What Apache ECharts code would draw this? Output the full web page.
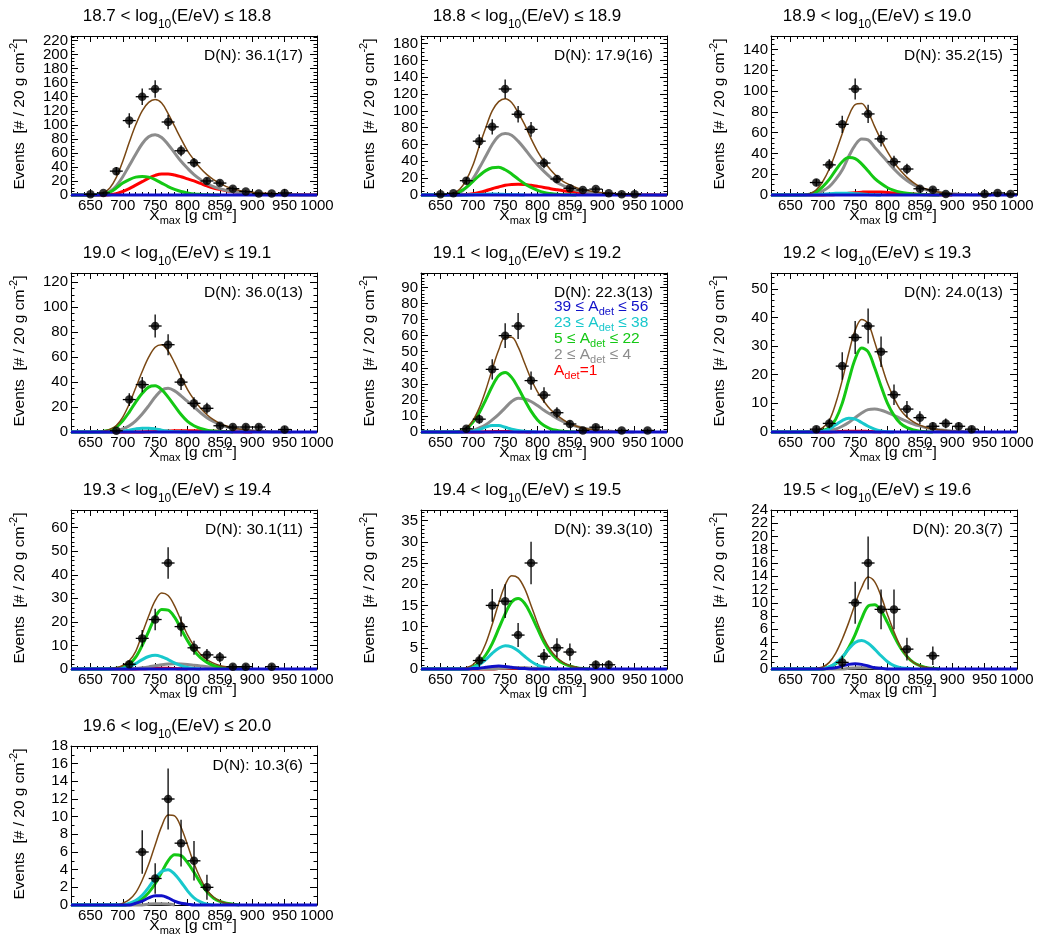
<!DOCTYPE html>
<html>
<head>
<meta charset="utf-8">
<script src="https://cdn.jsdelivr.net/npm/echarts@6/dist/echarts.min.js"></script>
<style>
  html, body { margin: 0; padding: 0; background: #fff; }
  #chart { width: 1037px; height: 943px; }
</style>
</head>
<body>
<div id="chart"></div>
<script>
// ---- energy bins (log10(E/eV) edges) and fit quality per bin ----
const energyEdges = ['18.7', '18.8', '18.9', '19.0', '19.1', '19.2', '19.3', '19.4', '19.5', '19.6', '20.0'];
const devianceText = ['36.1(17)', '17.9(16)', '35.2(15)', '36.0(13)', '22.3(13)', '24.0(13)', '30.1(11)', '39.3(10)', '20.3(7)', '10.3(6)'];

// ---- axes ----
const xTickLabels = [650, 700, 750, 800, 850, 900, 950, 1000];
const yTickStep = [20, 20, 20, 20, 10, 10, 10, 5, 2, 2];
const yAxisMax = [226.5, 189, 153, 127.5, 99, 55.5, 67.5, 37.5, 24, 18];

// ---- measured Xmax distributions: bin centres [g/cm^2] and event counts (null = empty bin) ----
const binCenters = [630, 650, 670, 690, 710, 730, 750, 770, 790, 810, 830, 850, 870, 890, 910, 930, 950, 970, 990];
const eventCounts = [
  [null, 1, 3, 34, 106, 140, 151, 104, 63, 46, 20, 17, 9, 5, 2, 2, 3, null, null],
  [null, 1, 2, 17, 64, 81, 126, 96, 78, 38, 19, 8, 6, 7, 2, 1, 1, null, null],
  [null, null, null, 12, 29, 68, 102, 78, 54, 32, 25, 6, 5, 1, null, null, 1, 2, 1],
  [null, null, null, 1, 26, 38, 85, 70, 40, 23, 19, 5, 4, 4, 4, null, 2, null, null],
  [null, null, null, 2, 8, 39, 60, 66, 32, 23, 12, 5, 1, 3, null, 1, null, 1, null],
  [null, null, null, 1, 3, 23, 33, 37, 28, 13, 8, 5, 2, 3, 2, 1, null, null, null],
  [null, null, null, null, 2, 13, 21, 45, 18, 9, 6, 5, 1, 1, null, 1, null, null, null],
  [null, null, null, null, 2, 15, 16, 8, 25, 3, 5, 4, null, 1, 1, null, null, null, null],
  [null, null, null, null, null, 1, 10, 16, 9, 9, 3, null, 2, null, null, null, null, null, null],
  [null, null, null, null, null, 6, 3, 12, 7, 5, 2, null, null, null, null, null, null, null, null]
];

// ---- fitted templates, sampled every 10 g/cm^2 from 620 ----
const fitX = [620, 630, 640, 650, 660, 670, 680, 690, 700, 710,
              720, 730, 740, 750, 760, 770, 780, 790, 800, 810,
              820, 830, 840, 850, 860, 870, 880, 890, 900, 910,
              920, 930, 940, 950, 960, 970, 980, 990, 1000];

// total fit
const fitTotal = [
  [0,0,0,0.1,0.5,3,10,25,48,75, 100,120,132,136,131,116,98,80,63,50, 38,29,22,16.5,12,9,6.5,5,3.8,3, 2.3,1.8,1.4,1.1,0.9,0.7,0.5,0.4,0.3],
  [0,0,0,0.2,0.7,2,7,18,35,58, 80,100,111,114.5,110,98,84,67,52,40, 30,22,16,12,8.7,6.5,5,3.5,2.7,1.9, 1.4,1,0.8,0.6,0.4,0.3,0.25,0.2,0.15],
  [0,0,0,0,0,0.4,1.3,5,13,25, 41,59,76,87,88,80,66,53,41.5,31.5, 23.5,17,12,8,5.7,3.9,2.7,1.8,1.1,0.7, 0.5,0.3,0.2,0.1,0],
  [0,0,0,0,0.2,0.7,2,5.2,12,22.5, 35.5,48.5,60,68,70,65,55.5,44.5,34,26, 19.2,13.8,9.9,6.9,4.8,3.3,2.3,1.6,1,0.7, 0.5,0.3,0.2,0.1,0],
  [0,0,0,0,0,0,0.5,2.5,7,15, 26,39,51,59,59,53,43,33,25,19, 14,10.5,7.5,5.2,3.6,2.5,1.7,1.1,0.7,0.5, 0.3,0.2,0.1,0],
  [0,0,0,0,0,0,0.2,0.5,1.5,4, 10,18,27.5,35.5,39.3,37.8,31.5,24,17,11.8, 7.7,5.2,3.5,2.4,1.6,1.1,0.8,0.5,0.3,0.2, 0.1,0],
  [0,0,0,0,0,0,0.2,0.5,1.5,3.5, 7.5,15,22.5,29,32.3,31.2,26.8,20.5,14.5,9.8, 6.3,4,2.5,1.5,0.9,0.5,0.3,0.2,0.1,0],
  [0,0,0,0,0,0,0,0.3,1,2.8, 6,10.5,15.5,19.8,22,21.5,19,15,10.8,7.2, 4.5,2.7,1.5,0.8,0.4,0.2,0.1,0],
  [0,0,0,0,0,0,0,0.1,0.3,1, 2.4,4.5,7,9.8,12.3,13.9,13.2,11,8.2,5.6, 3.4,1.9,1,0.5,0.25,0.1,0],
  [0,0,0,0,0,0,0,0,0.2,0.6, 1.4,2.8,4.6,6.8,8.9,10.2,10.1,8.8,6.8,4.7, 3,1.7,0.9,0.45,0.2,0.1,0]
];
// A_det = 1
const fitA1 = [
  [0,0,0,0,0,0,0.5,2,5,9, 14,19,24,28,30,30,28.5,26,23,20, 16.5,13,10,8,6,4.5,3.5,2.5,2,1.5, 1.1,0.9,0.7,0.6,0.5,0.4,0.35,0.3,0.25],
  [0,0,0,0,0,0,0,0.5,1.5,3, 5,7.5,9.5,11.5,12.5,12.8,12.5,11.5,10.3,9, 7.5,6.2,5,4,3.2,2.5,2,1.5,1.2,0.9, 0.7,0.5,0.4,0.3,0.25,0.2,0.15,0.1,0.1],
  [0,0,0,0,0,0,0,0,0,0.2, 0.5,1,1.6,2.2,2.7,3,3,2.8,2.4,2, 1.6,1.2,0.9,0.6,0.4,0.3,0.2,0.1,0],
  [0,0,0,0,0,0,0,0,0,0, 0,0,0.2,0.4,0.6,0.8,1,1.1,1.1,1, 0.9,0.8,0.6,0.5,0.4,0.3,0.2,0.1,0],
  [0,0,0,0,0,0,0,0,0,0, 0.1,0.2,0.3,0.3,0.3,0.2,0.1,0],
  [0,0,0,0,0,0,0,0,0,0, 0.1,0.2,0.3,0.3,0.3,0.2,0.1,0],
  [0,0,0,0,0,0,0,0,0,0, 0,0.1,0.2,0.3,0.3,0.3,0.2,0.1,0],
  [0,0,0,0,0,0,0,0,0,0, 0,0,0.1,0.2,0.2,0.2,0.2,0.1,0],
  [],
  []
];
// 2 <= A_det <= 4
const fitA2to4 = [
  [0,0,0,0,0.3,1,5,13,26,42, 58,73,83,86,82,72,60,48,38,29, 22,16,12,9,6.5,4.5,3.5,2.5,2,1.5, 1.1,0.8,0.6,0.4,0.3,0.2,0.1,0.1,0],
  [0,0,0,0.1,0.3,1,3,9,19,32, 46,60,70,73,71,64,55,45,36,28, 21,15,11,8,5.5,4,3,2,1.5,1, 0.7,0.5,0.4,0.3,0.2,0.1,0.1,0,0],
  [0,0,0,0,0,0.2,0.5,1.5,4,8, 15,24,37,48,54,53,46,39,32,25, 19,14,10,7,5,3.5,2.5,1.7,1.1,0.7, 0.5,0.3,0.2,0.1,0],
  [0,0,0,0,0,0.2,0.5,1,2.5,5, 9,14.5,21,28,33.5,35,33,29,24.5,20, 15.5,11.5,8.5,6,4.2,3,2.1,1.5,1,0.7, 0.5,0.3,0.2,0.1,0],
  [0,0,0,0,0,0,0,0.3,1,2.5, 4.5,7.5,11,15,19,21,20.5,19,16.5,13.5, 11,8.5,6.5,4.8,3.5,2.5,1.7,1.1,0.7,0.5, 0.3,0.2,0.1,0],
  [0,0,0,0,0,0,0,0,0.2,0.5, 1,2,3.3,5,6.6,7.8,8,7.6,6.8,5.8, 4.7,3.7,2.8,2.1,1.5,1.1,0.8,0.5,0.3,0.2, 0.1,0],
  [0,0,0,0,0,0,0,0,0,0, 0.2,0.5,0.9,1.4,1.8,2.1,2.2,2.1,1.9,1.6, 1.3,1,0.7,0.5,0.3,0.2,0.1,0],
  [0,0,0,0,0,0,0,0,0,0, 0,0,0.1,0.2,0.3,0.3,0.3,0.2,0.1,0],
  [0,0,0,0,0,0,0,0,0,0, 0,0,0.1,0.15,0.2,0.2,0.15,0.1,0],
  [0,0,0,0,0,0,0,0,0,0, 0,0,0.1,0.15,0.15,0.1,0]
];
// 5 <= A_det <= 22
const fitA5to22 = [
  [0,0,0,0,0.3,1,4,10,17,22, 25.5,26.5,25.5,22,17,12,8,5,3,1.5, 0.8,0.3,0.1,0],
  [0,0,0,0,0.3,1,4,9,16,23, 29,32.5,33,30,25,19,13.5,9,5.5,3, 1.7,0.8,0.4,0.2,0],
  [0,0,0,0,0,0.2,0.8,3,8,15, 24,32,36,35,30,23,16,11,7,4.5, 2.8,1.7,1,0.5,0.3,0.1,0],
  [0,0,0,0,0.2,0.5,1.5,4,9,16, 24,31,36,37,34,28,21,14,8.5,5, 2.8,1.5,0.8,0.4,0.2,0],
  [0,0,0,0,0,0,0.3,2,6,12, 20,28.5,35,37,34,27.5,20,13,7.5,4, 2,1,0.4,0.2,0],
  [0,0,0,0,0,0,0,0.2,0.5,1.5, 4.5,10,18,25.5,29.3,28,22.5,16,10,5.8, 3,1.5,0.7,0.3,0.1,0],
  [0,0,0,0,0,0,0.1,0.3,0.8,2, 5,10,16,22,25.3,25,22,17,12,7.8, 4.8,2.8,1.5,0.8,0.4,0.2,0.1,0],
  [0,0,0,0,0,0,0,0,0.5,1.5, 3.3,6,9.5,13,15.8,16.6,15.5,12.8,9.5,6.3, 3.9,2.3,1.3,0.7,0.3,0.1,0],
  [0,0,0,0,0,0,0,0,0,0.3, 0.8,1.7,3.2,5.2,7.6,9.5,9.7,8.8,7,5, 3.2,1.9,1,0.5,0.2,0.1,0],
  [0,0,0,0,0,0,0,0,0,0.1, 0.3,0.7,1.4,2.4,3.7,5,5.7,5.6,4.8,3.7, 2.5,1.5,0.8,0.4,0.2,0.1,0]
];
// 23 <= A_det <= 38
const fitA23to38 = [
  [],
  [0,0,0,0,0,0,0,0,0.3,0.7, 1,1.1,1,0.7,0.4,0.2,0],
  [0,0,0,0,0,0,0,0.3,0.7,1.2, 1.6,1.8,1.7,1.3,0.9,0.5,0.2,0],
  [0,0,0,0,0,0,0,0.2,0.5,1.5, 2.5,3,3,2.5,1.5,0.8,0.3,0.1,0],
  [0,0,0,0,0,0,0,0.2,0.5,1.5, 3,4,4,3,1.8,1,0.4,0.1,0],
  [0,0,0,0,0,0,0,0.1,0.3,1, 2.5,4,4.8,4.5,3.3,2,1,0.4,0.1,0],
  [0,0,0,0,0,0,0,0.1,0.3,1, 2.3,4,5.3,5.8,5.2,4,2.6,1.4,0.6,0.2, 0],
  [0,0,0,0,0,0,0,0,0.3,1, 2.2,3.7,4.9,5.5,5.2,4.3,3,1.8,0.9,0.4, 0.1,0],
  [0,0,0,0,0,0,0,0,0.1,0.3, 0.9,1.8,3,4,4.3,3.9,3,2,1.1,0.5, 0.2,0.1,0],
  [0,0,0,0,0,0,0,0,0,0.2, 0.5,1.1,2,3,3.8,4,3.5,2.6,1.6,0.8, 0.35,0.1,0]
];
// 39 <= A_det <= 56
const fitA39to56 = [
  [0,0,0,0,0,0,0,0,0,0, 0,0,0,0,0,0,0,0,0,0, 0,0,0,0,0,0,0,0,0,0, 0,0,0,0,0,0,0,0,0],
  [0,0,0,0,0,0,0,0,0,0, 0,0,0,0,0,0,0,0,0,0, 0,0,0,0,0,0,0,0,0,0, 0,0,0,0,0,0,0,0,0],
  [0,0,0,0,0,0,0,0,0,0, 0,0,0,0,0,0,0,0,0,0, 0,0,0,0,0,0,0,0,0,0, 0,0,0,0,0,0,0,0,0],
  [0,0,0,0,0,0,0,0,0,0, 0,0,0,0,0,0,0,0,0,0, 0,0,0,0,0,0,0,0,0,0, 0,0,0,0,0,0,0,0,0],
  [0,0,0,0,0,0,0,0,0,0, 0,0,0,0,0,0,0,0,0,0, 0,0,0,0,0,0,0,0,0,0, 0,0,0,0,0,0,0,0,0],
  [0,0,0,0,0,0,0,0,0,0, 0,0,0,0,0,0,0,0,0,0, 0,0,0,0,0,0,0,0,0,0, 0,0,0,0,0,0,0,0,0],
  [0,0,0,0,0,0,0,0,0,0, 0,0,0,0,0,0,0,0,0,0, 0,0,0,0,0,0,0,0,0,0, 0,0,0,0,0,0,0,0,0],
  [0,0,0,0,0,0,0,0,0.1,0.2, 0.4,0.6,0.7,0.6,0.4,0.2,0.1,0,0,0, 0,0,0,0,0,0,0,0,0,0, 0,0,0,0,0,0,0,0,0],
  [0,0,0,0,0,0,0,0,0,0.1, 0.2,0.45,0.7,0.8,0.7,0.45,0.2,0.1,0,0, 0,0,0,0,0,0,0,0,0,0, 0,0,0,0,0,0,0,0,0],
  [0,0,0,0,0,0,0,0,0,0, 0.2,0.45,0.8,1.05,1.05,0.8,0.45,0.2,0.1,0, 0,0,0,0,0,0,0,0,0,0, 0,0,0,0,0,0,0,0,0]
];

// ---- drawing ----
const FONT = '"Liberation Sans", Arial, Helvetica, sans-serif';
const BLACK = '#000';
const components = [
  { name: 'A1',     values: fitA1,      color: '#ff0000', width: 3 },
  { name: 'A2-4',   values: fitA2to4,   color: '#8c8c8c', width: 3 },
  { name: 'A5-22',  values: fitA5to22,  color: '#14c814', width: 3 },
  { name: 'A23-38', values: fitA23to38, color: '#18c8cc', width: 3 },
  { name: 'total',  values: fitTotal,   color: '#7a4814', width: 1.5 },
  { name: 'A39-56', values: fitA39to56, color: '#1010c8', width: 3 }
];

const colLeft = [71, 421, 771];
const rowTop = [36, 273, 510, 746];
const W = 246, H = 159;

const grids = [], xAxes = [], yAxes = [], series = [], graphics = [];
const frameLine = { show: true, onZero: false, lineStyle: { color: BLACK, width: 1 } };
const labelFont = { fontSize: 15, fontFamily: FONT, color: BLACK };

for (let p = 0; p < eventCounts.length; p++) {
  const L = colLeft[p % 3], T = rowTop[Math.floor(p / 3)];
  grids.push({ left: L, top: T, width: W, height: H });

  const baseX = {
    gridIndex: p, type: 'value', min: 620, max: 1000,
    splitLine: { show: false }, axisLabel: { show: false },
    axisLine: { show: false, onZero: false }, axisTick: { show: false }
  };
  const xi = xAxes.length;
  // bottom: minor ticks + frame line
  xAxes.push(Object.assign({}, baseX, {
    position: 'bottom', interval: 10, axisLine: frameLine,
    axisTick: { show: true, inside: true, length: 3, lineStyle: { color: BLACK } }
  }));
  // bottom: major ticks + labels
  xAxes.push(Object.assign({}, baseX, {
    position: 'bottom',
    axisTick: { show: true, inside: true, length: 6, customValues: xTickLabels, lineStyle: { color: BLACK } },
    axisLabel: Object.assign({
      show: true, customValues: xTickLabels, margin: 3,
      showMinLabel: true, showMaxLabel: true, formatter: v => String(v)
    }, labelFont)
  }));
  // top frame
  xAxes.push(Object.assign({}, baseX, {
    position: 'top', interval: 10, axisLine: frameLine,
    axisTick: { show: true, inside: true, length: 3, lineStyle: { color: BLACK } }
  }));
  xAxes.push(Object.assign({}, baseX, {
    position: 'top',
    axisTick: { show: true, inside: true, length: 6, customValues: xTickLabels, lineStyle: { color: BLACK } }
  }));

  const step = yTickStep[p];
  const yi = yAxes.length;
  const minorSplit = step === 2 ? 2 : (step === 20 ? 4 : 5);
  const baseY = {
    gridIndex: p, type: 'value', min: 0, max: yAxisMax[p], interval: step,
    axisLine: frameLine, splitLine: { show: false },
    axisTick: { show: true, inside: true, length: 7, lineStyle: { color: BLACK } },
    minorTick: { show: true, splitNumber: minorSplit, length: 3.5, lineStyle: { color: BLACK } },
    axisLabel: { show: false }
  };
  // ticks and frame
  yAxes.push(Object.assign({}, baseY, { position: 'left' }));
  yAxes.push(Object.assign({}, baseY, { position: 'right' }));
  // tick labels, split into alternating sets so neighbouring labels are all kept
  const yLabels = [];
  for (let k = 0; k * step <= yAxisMax[p] + 1e-9; k++) yLabels.push(k * step);
  [0, 1].forEach(parity => {
    const vals = yLabels.filter((v, k) => k % 2 === parity);
    yAxes.push({
      gridIndex: p, type: 'value', min: 0, max: yAxisMax[p], position: 'left',
      axisLine: { show: false, onZero: false }, axisTick: { show: false }, splitLine: { show: false },
      axisLabel: Object.assign({
        show: true, customValues: vals, margin: 3, showMinLabel: true, showMaxLabel: true,
        formatter: v => String(v)
      }, labelFont)
    });
  });

  // fitted curves
  components.forEach((c, k) => {
    const vals = c.values[p];
    if (!vals.length) return;
    series.push({
      type: 'line', xAxisIndex: xi, yAxisIndex: yi,
      data: vals.map((v, i) => [fitX[i], v]),
      showSymbol: false, smooth: 0.35, clip: false, silent: true,
      lineStyle: { color: c.color, width: c.width }, z: 2 + k
    });
  });

  // data points with Poisson error bars
  const pts = [];
  eventCounts[p].forEach((n, i) => { if (n !== null) pts.push([binCenters[i], n]); });
  series.push({
    type: 'custom', xAxisIndex: xi, yAxisIndex: yi, data: pts, clip: false, silent: true, z: 10,
    renderItem: (params, api) => {
      const x = api.value(0), n = api.value(1), e = Math.sqrt(n);
      const c = api.coord([x, n]);
      const up = api.coord([x, n + e]), dn = api.coord([x, n - e]);
      const l = api.coord([x - 10, n]), r = api.coord([x + 10, n]);
      const st = { stroke: BLACK, lineWidth: 1.3 };
      return {
        type: 'group', children: [
          { type: 'line', shape: { x1: c[0], y1: up[1], x2: c[0], y2: dn[1] }, style: st },
          { type: 'line', shape: { x1: l[0], y1: c[1], x2: r[0], y2: c[1] }, style: st }
        ]
      };
    }
  });
  series.push({
    type: 'scatter', xAxisIndex: xi, yAxisIndex: yi, data: pts, symbol: 'circle', symbolSize: 8.5,
    itemStyle: { color: BLACK }, silent: true, z: 11
  });

  // panel heading
  graphics.push({
    type: 'text', x: L + 106, y: T - 20, silent: true,
    style: {
      text: '{m|' + energyEdges[p] + ' < log}{s|10}{m|(E/eV) ≤ ' + energyEdges[p + 1] + '}',
      align: 'center', verticalAlign: 'middle',
      rich: {
        m: { fontSize: 17, fontFamily: FONT, fill: BLACK },
        s: { fontSize: 12, fontFamily: FONT, fill: BLACK, padding: [18, 0, 0, 0] }
      }
    }
  });
  // fit deviance
  graphics.push({
    type: 'text', x: L + W - 14, y: T + 19.5, silent: true,
    style: { text: 'D(N): ' + devianceText[p], fontSize: 15.5, fontFamily: FONT, fill: BLACK, align: 'right', verticalAlign: 'middle' }
  });
  // axis titles
  graphics.push({
    type: 'text', x: L + 122, y: T + H + 21, silent: true,
    style: {
      text: '{m|X}{s|max}{m| [g cm}{u|-2}{m|]}', align: 'center', verticalAlign: 'middle',
      rich: {
        m: { fontSize: 15.5, fontFamily: FONT, fill: BLACK },
        s: { fontSize: 11, fontFamily: FONT, fill: BLACK, padding: [10, 0, 0, 0] },
        u: { fontSize: 11, fontFamily: FONT, fill: BLACK, padding: [0, 0, 12, 0] }
      }
    }
  });
  graphics.push({
    type: 'text', x: L - 51, y: T + 78, rotation: Math.PI / 2, silent: true,
    style: {
      text: '{m|Events  [# / 20 g cm}{u|-2}{m|]}', align: 'center', verticalAlign: 'middle',
      rich: {
        m: { fontSize: 15.5, fontFamily: FONT, fill: BLACK },
        u: { fontSize: 11, fontFamily: FONT, fill: BLACK, padding: [0, 0, 12, 0] }
      }
    }
  });
}

// legend inside the 19.1-19.2 panel
const legendEntries = [
  { pre: '39 ≤ A', post: ' ≤ 56', color: '#1010c8' },
  { pre: '23 ≤ A', post: ' ≤ 38', color: '#18c8cc' },
  { pre: '5 ≤ A',  post: ' ≤ 22', color: '#14c814' },
  { pre: '2 ≤ A',  post: ' ≤ 4',  color: '#8c8c8c' },
  { pre: 'A',      post: '=1',    color: '#ff0000' }
];
const legendOffsets = [34, 50, 65.7, 81.5, 98];
legendEntries.forEach((e, i) => {
  graphics.push({
    type: 'text', x: colLeft[1] + 133, y: rowTop[1] + legendOffsets[i], silent: true,
    style: {
      text: '{m|' + e.pre + '}{s|det}{m|' + e.post + '}', align: 'left', verticalAlign: 'middle',
      rich: {
        m: { fontSize: 15.5, fontFamily: FONT, fill: e.color },
        s: { fontSize: 11, fontFamily: FONT, fill: e.color, padding: [10, 0, 0, 0] }
      }
    }
  });
});

const chart = echarts.init(document.getElementById('chart'), null, { renderer: 'canvas' });
chart.setOption({
  animation: false,
  backgroundColor: '#fff',
  grid: grids,
  xAxis: xAxes,
  yAxis: yAxes,
  series: series,
  graphic: { elements: graphics }
});
</script>
</body>
</html>
